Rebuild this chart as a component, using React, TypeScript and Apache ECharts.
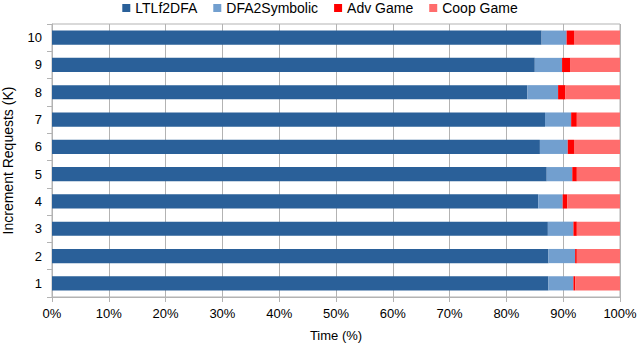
import React, { useEffect, useRef } from "react";
import * as echarts from "echarts";

const categories = ["1", "2", "3", "4", "5", "6", "7", "8", "9", "10"];
const ltlf2dfa = [87.4, 87.4, 87.3, 85.6, 87.1, 85.9, 86.8, 83.7, 85.0, 86.2];
const dfa2symbolic = [4.4, 4.7, 4.5, 4.3, 4.5, 4.9, 4.6, 5.4, 4.8, 4.4];
const advGame = [0.3, 0.3, 0.6, 0.8, 0.8, 1.1, 1.0, 1.3, 1.4, 1.3];
const coopGame = [7.9, 7.6, 7.6, 9.3, 7.6, 8.1, 7.6, 9.6, 8.8, 8.1];

const seriesNames = ["LTLf2DFA", "DFA2Symbolic", "Adv Game", "Coop Game"];
const seriesColors = ["#2a6099", "#729fcf", "#ff0000", "#ff6d6d"];
const seriesData = [ltlf2dfa, dfa2symbolic, advGame, coopGame];

const FONT = "Liberation Sans, Arial, sans-serif";

export default function App() {
  const ref = useRef<HTMLDivElement>(null);
  useEffect(() => {
    if (!ref.current) return;
    const chart = echarts.init(ref.current, undefined, { renderer: "svg" });
    chart.setOption({
      animation: false,
      textStyle: { fontFamily: FONT },
      legend: {
        top: -4,
        left: "center",
        itemWidth: 8,
        itemHeight: 8,
        itemGap: 16,
        icon: "rect",
        textStyle: { fontFamily: FONT, fontSize: 14, color: "#000" },
        data: seriesNames,
      },
      grid: {
        left: 52,
        right: 20,
        top: 24,
        bottom: 51,
        outerBoundsMode: "none",
        containLabel: false,
        show: true,
        borderColor: "#b3b3b3",
        borderWidth: 1,
      },
      xAxis: {
        type: "value",
        min: 0,
        max: 100,
        interval: 10,
        name: "Time (%)",
        nameLocation: "middle",
        nameGap: 32,
        nameTextStyle: { fontFamily: FONT, fontSize: 13, color: "#000" },
        axisLabel: {
          formatter: "{value}%",
          fontFamily: FONT,
          fontSize: 13,
          color: "#000",
          margin: 10,
        },
        axisLine: { show: true, lineStyle: { color: "#b3b3b3" } },
        axisTick: { show: true, length: 5, lineStyle: { color: "#b3b3b3" } },
        splitLine: { show: true, lineStyle: { color: "#b3b3b3", width: 1 } },
      },
      yAxis: {
        type: "category",
        data: categories,
        name: "Increment Requests (K)",
        nameLocation: "middle",
        nameGap: 37,
        nameRotate: 90,
        nameTextStyle: { fontFamily: FONT, fontSize: 14, color: "#000" },
        axisLabel: { fontFamily: FONT, fontSize: 13, color: "#000", margin: 10 },
        axisLine: { show: true, lineStyle: { color: "#b3b3b3" } },
        axisTick: { show: true, length: 5, lineStyle: { color: "#b3b3b3" } },
        splitLine: { show: false },
      },
      series: seriesNames.map((name, i) => ({
        name,
        type: "bar",
        stack: "total",
        barWidth: "52%",
        itemStyle: { color: seriesColors[i] },
        emphasis: { disabled: true },
        data: seriesData[i],
      })),
    });
    return () => chart.dispose();
  }, []);
  return <div ref={ref} style={{ width: 640, height: 348, position: "absolute", left: 0, top: 0 }} />;
}
